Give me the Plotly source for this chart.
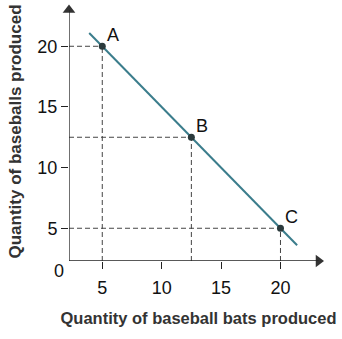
import plotly.graph_objects as go

# Data
point_labels = ["A", "B", "C"]
bats = [5, 12.5, 20]
balls = [20, 12.5, 5]
line_x = [3.9, 21.4]
line_y = [21.1, 3.6]
tick_vals = [5, 10, 15, 20]
tick_text = ["5", "10", "15", "20"]

x0, y0 = 2.2, 2.3
xmax, ymax = 24.0, 23.65

fig = go.Figure()

# guide lines
for bx, by in zip(bats, balls):
    fig.add_shape(type="line", x0=bx, x1=bx, y0=y0, y1=by,
                  line=dict(color="#444", width=1, dash="5px,3px"), layer="below")
    fig.add_shape(type="line", x0=x0, x1=bx, y0=by, y1=by,
                  line=dict(color="#444", width=1, dash="5px,3px"), layer="below")

# axes lines
fig.add_shape(type="line", x0=x0, x1=23.2, y0=y0, y1=y0, line=dict(color="#222", width=1.3))
fig.add_shape(type="line", x0=x0, x1=x0, y0=y0, y1=23.0, line=dict(color="#222", width=1.3))

# arrowheads
fig.add_trace(go.Scatter(x=[23.2], y=[y0], mode="markers",
                         marker=dict(symbol="triangle-right", size=11, color="#333"),
                         hoverinfo="skip", showlegend=False, cliponaxis=False))
fig.add_trace(go.Scatter(x=[x0], y=[23.0], mode="markers",
                         marker=dict(symbol="triangle-up", size=11, color="#333"),
                         hoverinfo="skip", showlegend=False, cliponaxis=False))

# PPF line
fig.add_trace(go.Scatter(x=line_x, y=line_y, mode="lines",
                         line=dict(color="#3b7d8c", width=2),
                         hoverinfo="skip", showlegend=False))

# points
fig.add_trace(go.Scatter(x=bats, y=balls, mode="markers",
                         marker=dict(size=7, color="#2b3a3c"),
                         hoverinfo="skip", showlegend=False, cliponaxis=False))

for lbl, bx, by in zip(point_labels, bats, balls):
    fig.add_annotation(x=bx, y=by, text=lbl, showarrow=False, xref="x", yref="y",
                       xshift=11, yshift=11,
                       font=dict(family="Liberation Sans, Arial", size=18, color="#111"))

# origin label
fig.add_annotation(x=x0, y=y0, text="0", showarrow=False, xref="x", yref="y",
                   xshift=-10, yshift=-10,
                   font=dict(family="Liberation Sans, Arial", size=18, color="#111"))

fig.update_layout(
    width=342, height=339,
    margin=dict(l=69, r=14, t=2, b=78),
    paper_bgcolor="white", plot_bgcolor="white",
    font=dict(family="Liberation Sans, Arial", color="#111"),
    xaxis=dict(range=[x0, xmax], tickvals=tick_vals, ticktext=tick_text,
               ticks="outside", ticklen=7, tickcolor="#222", tickwidth=1,
               tickangle=0, ticklabelstandoff=3,
               showgrid=False, zeroline=False, showline=False,
               tickfont=dict(size=18, color="#111"),
               title=dict(text="<b>Quantity of baseball bats produced</b>",
                          font=dict(size=16.5, color="#333"), standoff=15)),
    yaxis=dict(range=[y0, ymax], tickvals=tick_vals, ticktext=tick_text,
               ticks="outside", ticklen=7, tickcolor="#222", tickwidth=1,
               tickangle=0,
               showgrid=False, zeroline=False, showline=False,
               tickfont=dict(size=18, color="#111"),
               title=dict(text="<b>Quantity of baseballs produced</b>",
                          font=dict(size=17, color="#333"), standoff=11)),
)

fig.write_html("out.html")
